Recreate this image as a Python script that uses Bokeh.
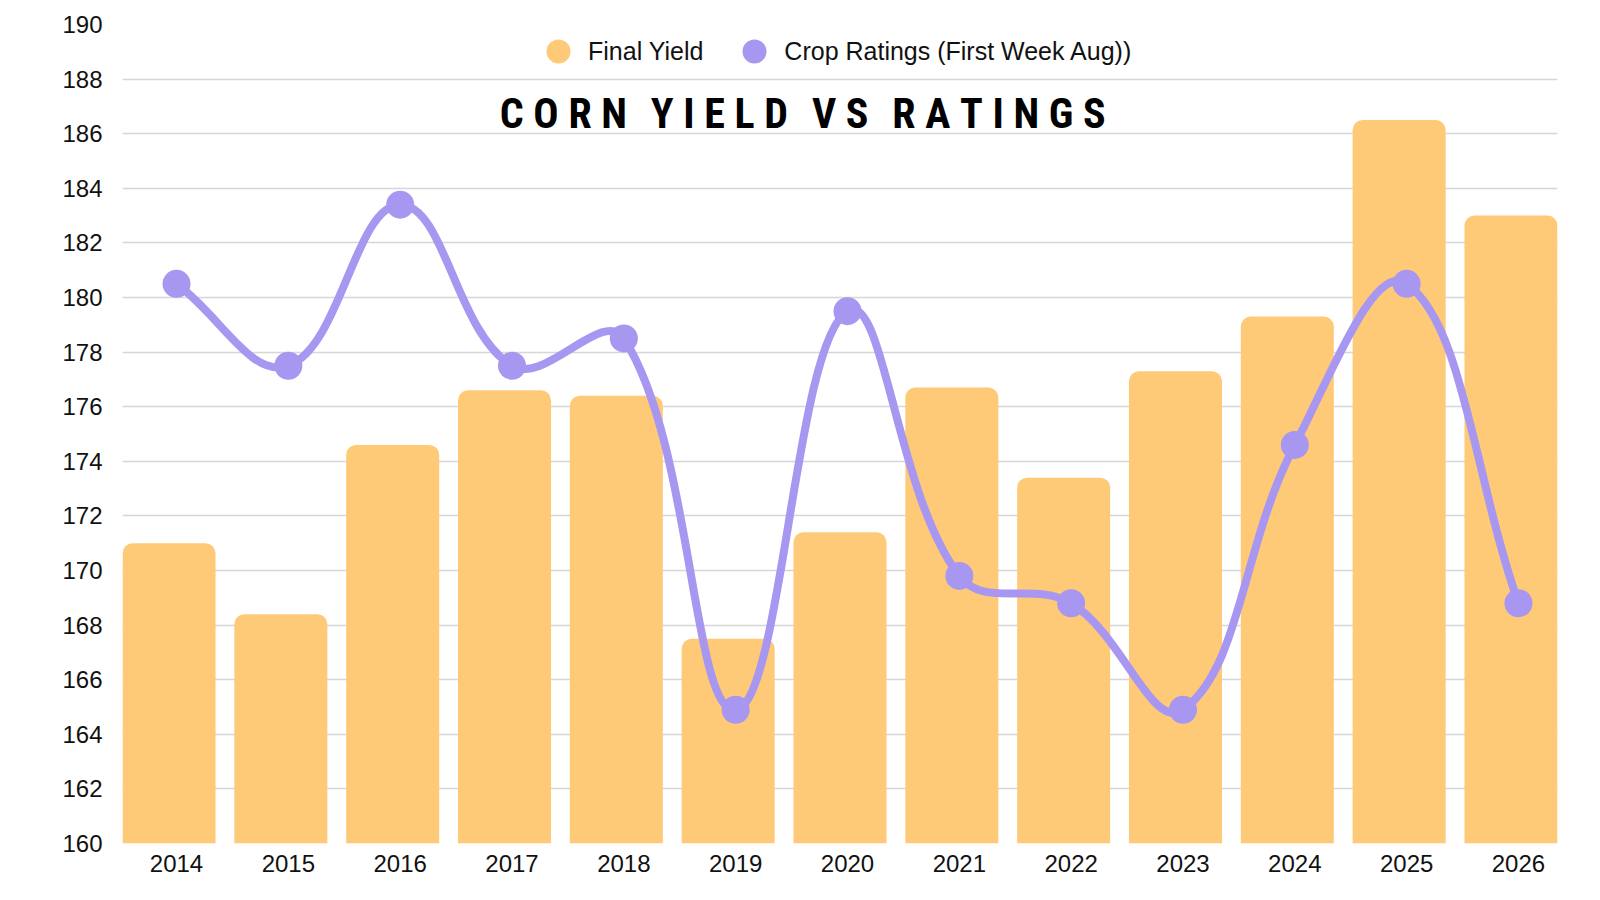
import math
from bokeh.plotting import figure
from bokeh.models import Range1d, FixedTicker, Label, Legend, LegendItem
from bokeh.embed import file_html
from bokeh.resources import INLINE

years = [2014, 2015, 2016, 2017, 2018, 2019, 2020, 2021, 2022, 2023, 2024, 2025, 2026]
final_yield = [171.0, 168.4, 174.6, 176.6, 176.4, 167.5, 171.4, 176.7, 173.4, 177.3, 179.3, 186.5, 183.0]
crop_ratings = [180.5, 177.5, 183.4, 177.5, 178.5, 164.9, 179.5, 169.8, 168.8, 164.9, 174.6, 180.5, 168.8]
y_ticks = list(range(160, 192, 2))
title_words = ["CORN", "YIELD", "VS", "RATINGS"]

BAR = "#FFCA78"
LINE = "#A797F1"
FONT = "Liberation Sans"
BAR_W = 0.832
BAR_OFF = 0.067   # bars sit slightly left of the category tick / line points

FW, FH = 1435, 819
p = figure(width=1600, height=900, frame_width=FW, frame_height=FH,
           output_backend="svg", toolbar_location=None,
           x_range=Range1d(years[0] - BAR_OFF - BAR_W / 2, years[-1] - BAR_OFF + BAR_W / 2),
           y_range=Range1d(160, 190),
           min_border_left=122, min_border_top=24, min_border_right=43, min_border_bottom=57)
p.outline_line_color = None
p.background_fill_color = "white"
p.border_fill_color = "white"

p.xgrid.visible = False
p.ygrid.grid_line_color = "#d6d6d6"
p.ygrid.grid_line_width = 1.5
p.yaxis.ticker = FixedTicker(ticks=y_ticks)
p.xaxis.ticker = FixedTicker(ticks=years)
for ax in (p.xaxis, p.yaxis):
    ax.axis_line_color = None
    ax.major_tick_line_color = None
    ax.minor_tick_line_color = None
    ax.major_label_text_font = FONT
    ax.major_label_text_font_size = "24px"
    ax.major_label_text_color = "#111111"
p.yaxis.major_label_standoff = 14
p.xaxis.major_label_standoff = 5

bar_x = [yr - BAR_OFF for yr in years]
bars = p.vbar(x=bar_x, top=final_yield, bottom=160, width=BAR_W, fill_color=BAR,
              line_color=None, border_radius=(10, 10, 0, 0))

# Chart.js-style spline (tension 0.4), computed in pixel-proportional space
sx = FW / (years[-1] - years[0] + BAR_W)
sy = FH / 30.0
t = 0.4
n = len(years)
cps = []
for i in range(n):
    prev = (years[max(i - 1, 0)], crop_ratings[max(i - 1, 0)])
    cur = (years[i], crop_ratings[i])
    nxt = (years[min(i + 1, n - 1)], crop_ratings[min(i + 1, n - 1)])
    d01 = math.hypot((cur[0] - prev[0]) * sx, (cur[1] - prev[1]) * sy)
    d12 = math.hypot((nxt[0] - cur[0]) * sx, (nxt[1] - cur[1]) * sy)
    tot = d01 + d12
    s01 = d01 / tot if tot else 0
    s12 = d12 / tot if tot else 0
    fa, fb = t * s01, t * s12
    pcp = (cur[0] - fa * (nxt[0] - prev[0]), cur[1] - fa * (nxt[1] - prev[1]))
    ncp = (cur[0] + fb * (nxt[0] - prev[0]), cur[1] + fb * (nxt[1] - prev[1]))
    cps.append((pcp, ncp))

x0 = years[:-1]; y0 = crop_ratings[:-1]
x1 = years[1:]; y1 = crop_ratings[1:]
cx0 = [cps[i][1][0] for i in range(n - 1)]
cy0 = [cps[i][1][1] for i in range(n - 1)]
cx1 = [cps[i + 1][0][0] for i in range(n - 1)]
cy1 = [cps[i + 1][0][1] for i in range(n - 1)]
p.bezier(x0=x0, y0=y0, x1=x1, y1=y1, cx0=cx0, cy0=cy0, cx1=cx1, cy1=cy1,
         line_color=LINE, line_width=8, line_cap="round")
pts = p.scatter(x=years, y=crop_ratings, size=28, fill_color=LINE, line_color=None)

# legend proxies (placed below the visible y range)
leg_bar = p.scatter(x=[years[0]], y=[100], size=24, fill_color=BAR, line_color=None)
leg_line = p.scatter(x=[years[0]], y=[100], size=24, fill_color=LINE, line_color=None)
legend = Legend(items=[LegendItem(label="Final Yield", renderers=[leg_bar]),
                       LegendItem(label="Crop Ratings (First Week Aug))", renderers=[leg_line])],
                location=(406, 762), orientation="horizontal",
                background_fill_alpha=0, border_line_alpha=0,
                label_text_font=FONT, label_text_font_size="25px", label_text_color="#111111",
                glyph_width=60, glyph_height=60, label_standoff=0, spacing=21,
                padding=0, margin=0, label_height=25)
p.add_layout(legend, "center")

NB = "\u00a0"
title_text = (NB * 2 + "\u200a").join(NB.join(w) for w in title_words)
title = Label(x=2019.6, y=186.74, text=title_text,
              text_align="center", text_baseline="middle",
              text_font="Roboto Condensed",
              text_font_style="bold", text_font_size="42px", text_color="#000000")
p.add_layout(title)

open("out.html", "w").write(file_html(p, INLINE))
